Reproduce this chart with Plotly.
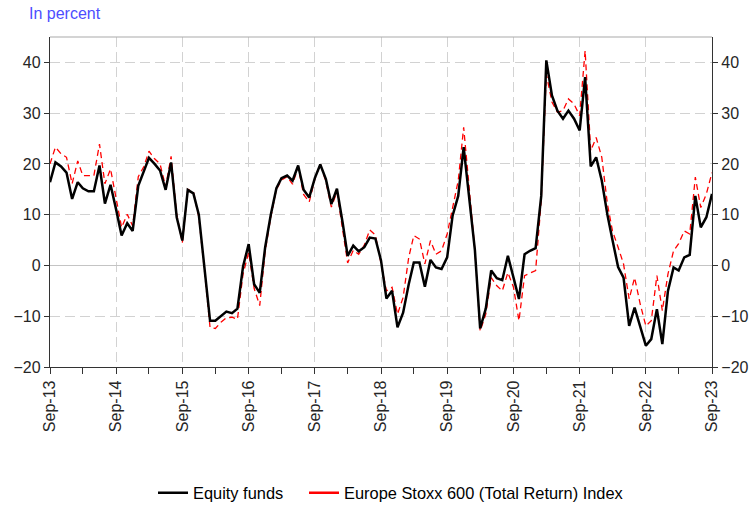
import pandas as pd
import plotly.graph_objects as go

months = pd.date_range("2013-09-01", "2023-09-01", freq="MS")

equity_funds = [
    16.4, 20.3, 19.5, 18.3, 13.1, 16.4, 15.2, 14.6, 14.6, 19.7, 12.2, 15.9,
    11.0, 5.9, 8.3, 6.8, 15.7, 18.5, 21.2, 20.0, 18.7, 14.9, 20.3, 9.5,
    4.9, 14.9, 14.2, 10.0, -0.3, -10.9, -10.9, -9.9, -9.1, -9.4, -8.5, -0.2,
    4.2, -3.7, -5.4, 3.6, 10.0, 15.2, 17.2, 17.7, 16.7, 19.7, 14.9, 13.4,
    17.2, 19.9, 17.0, 12.1, 15.1, 8.5, 1.9, 3.9, 2.8, 3.6, 5.5, 5.3,
    1.0, -6.5, -5.0, -12.2, -9.3, -3.7, 0.6, 0.6, -4.2, 1.1, -0.4, -0.7,
    1.6, 9.8, 13.7, 23.3, 12.5, 3.0, -12.4, -8.5, -1.0, -2.5, -2.9, 1.9,
    -2.4, -6.6, 2.2, 2.9, 3.4, 13.7, 40.4, 33.5, 30.5, 28.9, 30.5, 28.9,
    26.6, 37.1, 19.5, 21.3, 16.7, 10.0, 5.0, -0.3, -2.4, -11.9, -8.3, -12.2,
    -15.8, -14.5, -8.6, -15.5, -5.0, -0.4, -1.0, 1.6, 2.1, 13.7, 7.5, 9.5,
    14.1,
]

stoxx600_tr = [
    20.0, 23.3, 22.0, 21.3, 16.1, 20.6, 17.7, 17.7, 17.7, 23.9, 16.1, 19.0,
    13.0, 7.5, 10.1, 7.8, 17.5, 19.5, 22.5, 21.0, 20.0, 15.5, 21.5, 10.0,
    4.5, 15.0, 14.5, 9.5, -1.0, -12.2, -12.4, -11.2, -10.3, -10.2, -10.6, -1.7,
    2.6, -4.5, -7.9, 2.8, 9.5, 15.0, 16.8, 17.5, 16.0, 19.3, 14.0, 12.5,
    17.0, 20.0, 16.5, 11.5, 14.5, 7.5, 0.5, 3.0, 2.2, 4.0, 7.0, 6.0,
    0.0, -5.0, -4.3, -9.6, -6.3, 1.6, 5.9, 5.2, 0.3, 4.9, 2.2, 2.9,
    6.2, 11.4, 16.7, 27.2, 15.5, 3.0, -12.9, -9.6, -2.4, -4.0, -5.0, -1.4,
    -4.3, -10.9, -2.0, -1.5, -1.0, 12.8, 37.7, 32.2, 30.2, 30.5, 32.8, 31.8,
    29.5, 42.3, 22.6, 25.2, 21.3, 12.1, 6.8, 3.6, 0.3, -6.6, -2.4, -7.6,
    -11.9, -10.9, -2.0, -8.9, -1.7, 2.9, 4.3, 6.8, 6.2, 17.4, 11.4, 14.1,
    18.3,
]

series_names = ["Equity funds", "Europe Stoxx 600 (Total Return) Index"]
y_ticks = [-20, -10, 0, 10, 20, 30, 40]

FONT = "Liberation Sans, Arial, sans-serif"
AX = "#333333"
GRID = "#d2d2d2"
TICKFONT = dict(size=16, color="#262626")

fig = go.Figure()
fig.add_trace(go.Scatter(
    x=months, y=stoxx600_tr, mode="lines", name=series_names[1],
    line=dict(color="#ff0000", width=1.3, dash="6px,4px"), showlegend=False))
fig.add_trace(go.Scatter(
    x=months, y=equity_funds, mode="lines", name=series_names[0],
    line=dict(color="#000000", width=2.5), showlegend=False))
# legend entries (solid samples as in the reference)
fig.add_trace(go.Scatter(
    x=[None], y=[None], mode="lines", name=series_names[0],
    line=dict(color="#000000", width=2.5), yaxis="y2", legend="legend"))
fig.add_trace(go.Scatter(
    x=[None], y=[None], mode="lines", name=series_names[1],
    line=dict(color="#ff0000", width=2.5), yaxis="y2", legend="legend2"))

legend_common = dict(
    orientation="h", xanchor="left", y=-0.382, yanchor="middle",
    font=dict(size=16.4), itemwidth=30, bgcolor="rgba(0,0,0,0)",
)

fig.update_layout(
    width=754, height=507,
    margin=dict(l=50, r=42, t=37, b=140, autoexpand=False),
    paper_bgcolor="white", plot_bgcolor="white",
    font=dict(family=FONT, size=16, color="#000000"),
    xaxis=dict(
        type="date", automargin=False,
        range=[months[0], months[-1]],
        tick0="2013-09-01", dtick="M12", tickformat="%b-%y",
        tickangle=-90, ticks="outside", ticklen=6, tickwidth=1.3, tickcolor=AX,
        showline=True, linecolor=AX, linewidth=1.3,
        showgrid=True, gridcolor=GRID, gridwidth=1.4, griddash="10px,5px",
        minor=dict(tick0="2013-09-01", dtick="M6", ticks="outside", ticklen=6,
                   tickwidth=1.3, tickcolor=AX, showgrid=False),
        tickfont=TICKFONT,
    ),
    yaxis=dict(
        range=[-20, 45], tickmode="array", tickvals=y_ticks, automargin=False,
        ticks="outside", ticklen=5, tickwidth=1.3, tickcolor=AX,
        showline=True, linecolor=AX, linewidth=1.3,
        showgrid=True, gridcolor=GRID, gridwidth=1.4, griddash="10px,5px",
        zeroline=True, zerolinecolor="#c4c4c4", zerolinewidth=1.2,
        tickfont=TICKFONT,
    ),
    yaxis2=dict(
        range=[-20, 45], tickmode="array", tickvals=y_ticks, automargin=False,
        overlaying="y", side="right",
        ticks="outside", ticklen=5, tickwidth=1.3, tickcolor=AX,
        showline=True, linecolor=AX, linewidth=1.3,
        showgrid=False, zeroline=False,
        tickfont=TICKFONT,
    ),
    legend=dict(x=0.1556, **legend_common),
    legend2=dict(x=0.3837, **legend_common),
    shapes=[dict(type="line", xref="paper", yref="paper", x0=0, x1=1, y0=1, y1=1,
                 line=dict(color="#aaaaaa", width=1.2))],
    annotations=[dict(
        text="In percent", xref="paper", yref="paper",
        x=-0.0347, y=1.0727, xanchor="left", yanchor="middle", showarrow=False,
        font=dict(size=16, color="#4d4dff", family=FONT))],
)

fig.write_html("out.html", config={"displayModeBar": False},
               post_script="document.body.style.margin='0';")
